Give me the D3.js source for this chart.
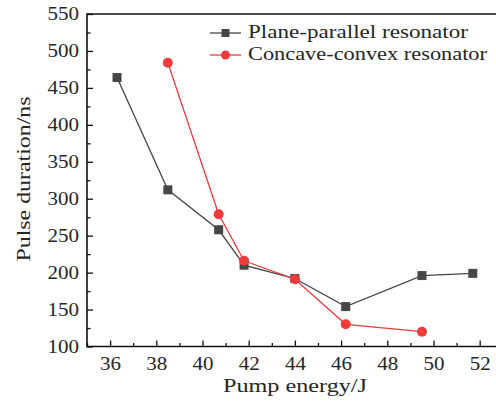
<!DOCTYPE html>
<html><head><meta charset="utf-8">
<script src="https://cdn.jsdelivr.net/npm/d3@7"></script>
<style>body{margin:0;background:#fff}svg{display:block}text{font-family:"Liberation Serif","Times New Roman",serif;fill:#262626}</style>
</head><body><svg id="c" width="496" height="401"></svg>
<script>
const xTicks = [36, 38, 40, 42, 44, 46, 48, 50, 52];
const yTicks = [100, 150, 200, 250, 300, 350, 400, 450, 500, 550];
const planeX = [36.3, 38.5, 40.7, 41.8, 44.0, 46.2, 49.5, 51.7];
const planeY = [464, 312, 258, 210, 192, 154, 196, 199];
const concaveX = [38.5, 40.7, 41.8, 44.0, 46.2, 49.5];
const concaveY = [484, 279, 216, 191, 130, 120];
const seriesNames = ["Plane-parallel resonator", "Concave-convex resonator"];
const xLabel = "Pump energy/J";
const yLabel = "Pulse duration/ns";

const svg = d3.select("#c");
const L = 87, T = 14, B = 346.5;
const x = d3.scaleLinear().domain([35, 53]).range([L, L + 18 * 23.1]);
const y = d3.scaleLinear().domain([100, 550]).range([B, T]);
const gray = "#464646", red = "#ee3b3b";
const fs = 18.5;

const xMinor = d3.range(35, 53, 1).filter(v => !xTicks.includes(v));
const yMinor = d3.range(125, 550, 50);

const gx = svg.append("g").attr("transform", `translate(0,${B})`);
gx.call(d3.axisBottom(x).tickValues(xTicks).tickSize(-6).tickPadding(10).tickFormat(d3.format("d")));
const gxm = svg.append("g").attr("transform", `translate(0,${B})`);
gxm.call(d3.axisBottom(x).tickValues(xMinor).tickSize(-3.5).tickFormat(""));
const gy = svg.append("g").attr("transform", `translate(${L},0)`);
gy.call(d3.axisLeft(y).tickValues(yTicks).tickSize(-6).tickPadding(8).tickFormat(d3.format("d")));
const gym = svg.append("g").attr("transform", `translate(${L},0)`);
gym.call(d3.axisLeft(y).tickValues(yMinor).tickSize(-3.5).tickFormat(""));
[gx, gxm, gy, gym].forEach(g => {
  g.selectAll(".domain").remove();
  g.selectAll("line").attr("stroke", "#111").attr("stroke-width", 1.3);
  g.selectAll("text").style("font-size", fs + "px").attr("fill", "#262626")
    .attr("textLength", d => String(d).length * 10.5).attr("lengthAdjust", "spacingAndGlyphs");
});
svg.append("path")
  .attr("d", `M${x(53)},${T}H${L}V${B}H${x(53)}`)
  .attr("fill", "none").attr("stroke", "#111").attr("stroke-width", 1.6);

const line = d3.line().x(d => x(d[0])).y(d => y(d[1]));
const pData = planeX.map((v, i) => [v, planeY[i]]);
const cData = concaveX.map((v, i) => [v, concaveY[i]]);

svg.append("path").datum(pData).attr("d", line).attr("fill", "none").attr("stroke", gray).attr("stroke-width", 1.3);
svg.append("path").datum(cData).attr("d", line).attr("fill", "none").attr("stroke", red).attr("stroke-width", 1.3);
svg.selectAll(".sq").data(pData).enter().append("rect")
  .attr("x", d => x(d[0]) - 4.5).attr("y", d => y(d[1]) - 4.5).attr("width", 9).attr("height", 9).attr("fill", gray);
svg.selectAll(".ci").data(cData).enter().append("circle")
  .attr("cx", d => x(d[0])).attr("cy", d => y(d[1])).attr("r", 5).attr("fill", red);

const lg = svg.append("g");
const ly = [33, 55];
lg.append("line").attr("x1", 210).attr("x2", 241).attr("y1", ly[0]).attr("y2", ly[0]).attr("stroke", gray).attr("stroke-width", 1.3);
lg.append("rect").attr("x", 225.5 - 4).attr("y", ly[0] - 4).attr("width", 8).attr("height", 8).attr("fill", gray);
lg.append("line").attr("x1", 210).attr("x2", 241).attr("y1", ly[1]).attr("y2", ly[1]).attr("stroke", red).attr("stroke-width", 1.3);
lg.append("circle").attr("cx", 225.5).attr("cy", ly[1]).attr("r", 4.5).attr("fill", red);
lg.append("text").attr("x", 248).attr("y", 37.5).style("font-size", fs + "px").attr("textLength", 220).attr("lengthAdjust", "spacingAndGlyphs").text(seriesNames[0]);
lg.append("text").attr("x", 248).attr("y", 60).style("font-size", fs + "px").attr("textLength", 239).attr("lengthAdjust", "spacingAndGlyphs").text(seriesNames[1]);

svg.append("text").attr("x", 295).attr("y", 392).attr("text-anchor", "middle").style("font-size", fs + "px")
  .attr("textLength", 144).attr("lengthAdjust", "spacingAndGlyphs").text(xLabel);
svg.append("text").attr("transform", `translate(29.5,179) rotate(-90)`).attr("text-anchor", "middle").style("font-size", fs + "px")
  .attr("textLength", 165).attr("lengthAdjust", "spacingAndGlyphs").text(yLabel);
</script></body></html>
